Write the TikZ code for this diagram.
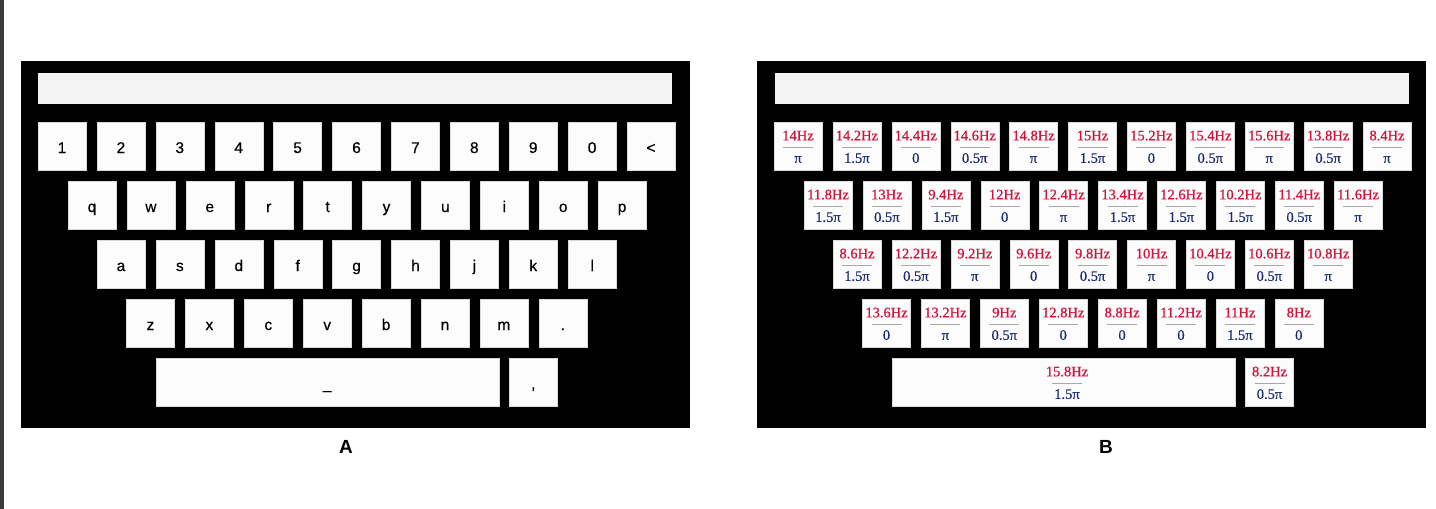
\documentclass[tikz,border=0pt]{standalone}
\usepackage{fontspec}
\setmainfont{Liberation Serif}
\setsansfont{Liberation Sans}
\newfontfamily\keyserif[FakeBold=0.7]{Liberation Serif}
\newfontfamily\keysans[FakeBold=0.4]{Liberation Sans}
\definecolor{leftbar}{HTML}{3A3A3A}
\definecolor{keywhite}{HTML}{FCFCFC}
\definecolor{fieldgray}{HTML}{F3F3F3}
\definecolor{hzred}{HTML}{D3123A}
\definecolor{phblue}{HTML}{1A2B74}
\definecolor{sepgray}{HTML}{A8A8A8}
\begin{document}
\begin{tikzpicture}[x=1pt,y=-1pt,
  panel/.style={fill=black,draw=none,minimum width=669pt,minimum height=367pt,inner sep=0pt},
  field/.style={fill=fieldgray,draw=none,minimum width=634pt,minimum height=31pt,inner sep=0pt},
  keyA/.style={fill=keywhite,draw=black!15,line width=0.3pt,minimum width=48pt,minimum height=48pt,inner sep=0pt,text height=14pt,text depth=0pt,font=\keysans\fontsize{15.5}{15.5}\selectfont},
  keyB/.style={fill=keywhite,draw=black!15,line width=0.3pt,minimum width=48pt,minimum height=48pt,inner sep=0pt},
  hzt/.style={text=hzred,inner sep=0pt,text height=9.6pt,text depth=0pt,font=\keyserif\fontsize{14.5}{14.5}\selectfont},
  pht/.style={text=phblue,inner sep=0pt,text height=9.6pt,text depth=0pt,font=\keyserif\fontsize{14.5}{14.5}\selectfont},
  sepl/.style={draw=sepgray,line width=0.9pt},
  plabel/.style={inner sep=0pt,font=\sffamily\bfseries\fontsize{19}{19}\selectfont}]
\useasboundingbox (0,0) rectangle (1436,509);
\fill[white] (0,0) rectangle (1436,509);
\fill[leftbar] (0,0) rectangle (4,509);
% panels
\node[panel] (pA) at (355.5,244.25) {};
\node[panel] (pB) at (1091.5,244.25) {};
\node[field] (tfA) at (355,88.5) {};
\node[field] (tfB) at (1091.5,88.5) {};
% ---------------- panel A ----------------
\foreach \t [count=\i from 0] in {1,2,3,4,5,6,7,8,9,0,<}
  \node[keyA] (kA1-\i) at ({62+58.9*\i},146) {\t};
\foreach \t [count=\i from 0] in {q,w,e,r,t,y,u,i,o,p}
  \node[keyA] (kA2-\i) at ({92+58.9*\i},205) {\t};
\foreach \t [count=\i from 0] in {a,s,d,f,g,h,j,k,l}
  \node[keyA] (kA3-\i) at ({121+58.9*\i},264) {\t};
\foreach \t [count=\i from 0] in {z,x,c,v,b,n,m,.}
  \node[keyA] (kA4-\i) at ({150.5+58.9*\i},323) {\t};
\node[keyA,minimum width=343pt] (spA) at (327.2,382) {\_};
\node[keyA] (cmA) at (533.3,382) {,};
\node[plabel] (labA) at (346,447) {A};
% ---------------- panel B ----------------
\foreach \h/\p [count=\i from 0] in {14Hz/π,14.2Hz/1.5π,14.4Hz/0,14.6Hz/0.5π,14.8Hz/π,15Hz/1.5π,15.2Hz/0,15.4Hz/0.5π,15.6Hz/π,13.8Hz/0.5π,8.4Hz/π}{
  \pgfmathsetmacro\xx{798+58.9*\i}
  \node[keyB] (kB1-\i) at (\xx,146) {};
  \node[hzt] (kB1-\i-h) at (\xx,135.5) {\h};
  \draw[sepl] (\xx-15,147.5) -- (\xx+15,147.5);
  \node[pht] (kB1-\i-p) at (\xx,158) {\p};
}
\foreach \h/\p [count=\i from 0] in {11.8Hz/1.5π,13Hz/0.5π,9.4Hz/1.5π,12Hz/0,12.4Hz/π,13.4Hz/1.5π,12.6Hz/1.5π,10.2Hz/1.5π,11.4Hz/0.5π,11.6Hz/π}{
  \pgfmathsetmacro\xx{828+58.9*\i}
  \node[keyB] (kB2-\i) at (\xx,205) {};
  \node[hzt] (kB2-\i-h) at (\xx,194.5) {\h};
  \draw[sepl] (\xx-15,206.5) -- (\xx+15,206.5);
  \node[pht] (kB2-\i-p) at (\xx,217) {\p};
}
\foreach \h/\p [count=\i from 0] in {8.6Hz/1.5π,12.2Hz/0.5π,9.2Hz/π,9.6Hz/0,9.8Hz/0.5π,10Hz/π,10.4Hz/0,10.6Hz/0.5π,10.8Hz/π}{
  \pgfmathsetmacro\xx{857+58.9*\i}
  \node[keyB] (kB3-\i) at (\xx,264) {};
  \node[hzt] (kB3-\i-h) at (\xx,253.5) {\h};
  \draw[sepl] (\xx-15,265.5) -- (\xx+15,265.5);
  \node[pht] (kB3-\i-p) at (\xx,276) {\p};
}
\foreach \h/\p [count=\i from 0] in {13.6Hz/0,13.2Hz/π,9Hz/0.5π,12.8Hz/0,8.8Hz/0,11.2Hz/0,11Hz/1.5π,8Hz/0}{
  \pgfmathsetmacro\xx{886.5+58.9*\i}
  \node[keyB] (kB4-\i) at (\xx,323) {};
  \node[hzt] (kB4-\i-h) at (\xx,312.5) {\h};
  \draw[sepl] (\xx-15,324.5) -- (\xx+15,324.5);
  \node[pht] (kB4-\i-p) at (\xx,335) {\p};
}
\node[keyB,minimum width=343pt] (spB) at (1063.5,382) {};
\node[hzt] (spB-h) at (1067,371.5) {15.8Hz};
\draw[sepl] (1052,383.5) -- (1082,383.5);
\node[pht] (spB-p) at (1067,394) {1.5π};
\node[keyB] (cmB) at (1269.5,382) {};
\node[hzt] (cmB-h) at (1269.5,371.5) {8.2Hz};
\draw[sepl] (1254.5,383.5) -- (1284.5,383.5);
\node[pht] (cmB-p) at (1269.5,394) {0.5π};
\node[plabel] (labB) at (1106,447) {B};
\end{tikzpicture}
\end{document}
